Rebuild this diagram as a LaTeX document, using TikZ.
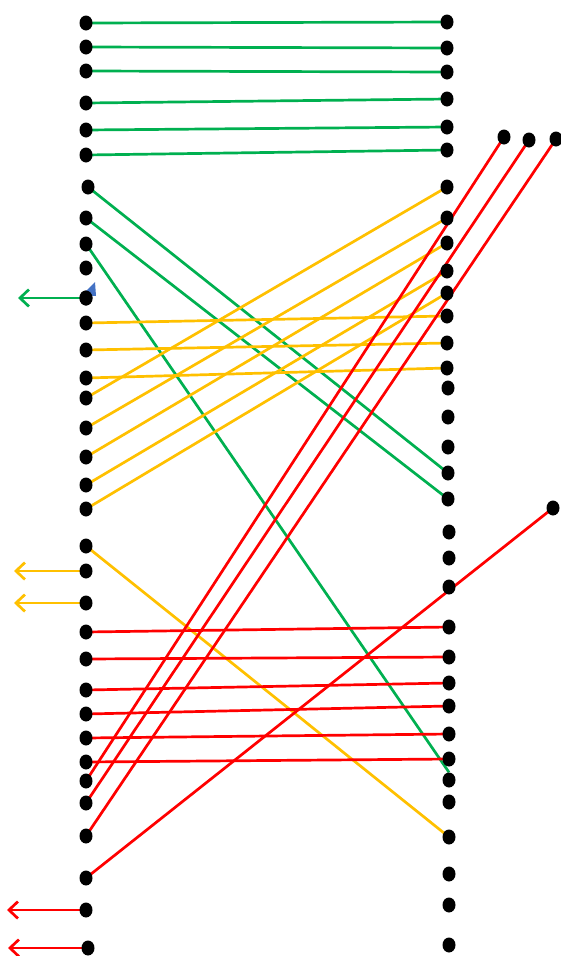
\documentclass[tikz,border=0pt]{standalone}
\usetikzlibrary{shapes.geometric,arrows.meta}
\pgfdeclarelayer{bg}
\pgfsetlayers{bg,main}
\definecolor{cgreen}{HTML}{00B050}
\definecolor{cyellow}{HTML}{FFC000}
\definecolor{cred}{HTML}{FF0000}
\definecolor{cblue}{HTML}{4472C4}
\tikzset{
  dot/.style={ellipse,fill=black,draw=none,minimum width=13pt,minimum height=15pt,inner sep=0pt},
  gline/.style={cgreen,line width=2.7pt},
  yline/.style={cyellow,line width=2.7pt},
  rline/.style={cred,line width=2.7pt},
  outarrow/.style={-{Straight Barb[length=9pt,width=17pt,line width=2.7pt]}}
}
\begin{document}
\begin{tikzpicture}[x=1pt,y=-1pt]
\useasboundingbox (0,0) rectangle (561,956);
% left column
\foreach \n/\x/\y in {1/86/23,2/86/47,3/86/71,4/86/103,5/86/130,6/86/155,7/88/187,8/86/218,9/86/244,10/86/268,11/86/298,12/86/323,13/86/350,14/86/378,15/86/398,16/86/428,17/86/457,18/86/485,19/86/509,20/86/546,21/86/571,22/86/603,23/86/632,24/86/659,25/86/690,26/86/714,27/86/738,28/86/762,29/86/781,30/86/803,31/86/836,32/86/878,33/86/910,34/88/948}
  \node[dot] (L\n) at (\x,\y) {};
% right column
\foreach \n/\x/\y in {1/447/22,2/447/48,3/447/72,4/447/99,5/447/127,6/447/150,7/447/187,8/447/218,9/447/243,10/447/271,11/447/293,12/447/316,13/447/343,14/447/368,15/448/388,16/448/417,17/448/447,18/448/473,19/448/499,20/449/532,21/449/558,22/449/587,23/449/627,24/449/657,25/449/683,26/449/706,27/449/734,28/449/759,29/449/780,30/449/802,31/449/837,32/449/874,33/449/905,34/449/945}
  \node[dot] (R\n) at (\x,\y) {};
% extra dots
\node[dot] (E1) at (504,137) {};
\node[dot] (E2) at (529,140) {};
\node[dot] (E3) at (556,139) {};
\node[dot] (E4) at (553,508) {};
% arrow ends
\coordinate (AG) at (18,298);
\coordinate (AY1) at (14,571);
\coordinate (AY2) at (14,603);
\coordinate (AR1) at (7,910);
\coordinate (AR2) at (8,948);
\begin{pgfonlayer}{bg}
% green
\foreach \a/\b in {1/1,2/2,3/3,4/4,5/5,6/6,7/18,8/19}
  \draw[gline] (L\a.center) -- (R\b.center);
\draw[gline] (L9.center) -- (R29.north);
\draw[gline,outarrow] (L11.center) -- (AG);
% yellow
\foreach \a/\b in {12/12,13/13,14/14,15/7,16/8,17/9,18/10,19/11,20/31}
  \draw[yline] (L\a.center) -- (R\b.center);
\draw[yline,outarrow] (L21.center) -- (AY1);
\draw[yline,outarrow] (L22.center) -- (AY2);
% red
\foreach \a/\b in {23/23,24/24,25/25,26/26,27/27,28/28}
  \draw[rline] (L\a.center) -- (R\b.center);
\draw[rline] (E1.center) -- (L29.center);
\draw[rline] (E2.center) -- (L30.center);
\draw[rline] (E3.center) -- (L31.center);
\draw[rline] (E4.center) -- (L32.center);
\draw[rline,outarrow] (L33.center) -- (AR1);
\draw[rline,outarrow] (L34.center) -- (AR2);
\end{pgfonlayer}
% blue marker
\fill[cblue] (82,295) -- (95,282) -- (96,296) -- cycle;
\node[dot] at (L11) {};
\end{tikzpicture}
\end{document}
